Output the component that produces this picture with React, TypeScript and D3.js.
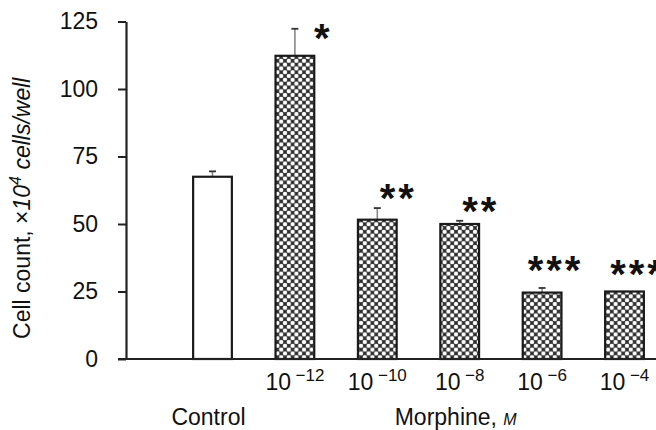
import { useRef, useEffect } from "react";
import * as d3 from "d3";

const categories = ["Control", "1e-12", "1e-10", "1e-8", "1e-6", "1e-4"];
const exponents = [null, "−12", "−10", "−8", "−6", "−4"];
const means = [67.5, 112.3, 51.6, 50, 24.6, 25];
const errors = [2, 10, 4.3, 1.2, 1.7, 0];
const stars = ["", "*", "**", "**", "***", "***"];
const yTicks = [0, 25, 50, 75, 100, 125];

const width = 656;
const height = 430;
const font = "'Liberation Sans', Arial, sans-serif";

const App = () => {
  const svgRef = useRef<SVGSVGElement>(null);

  useEffect(() => {
    const svg = d3.select(svgRef.current);
    svg.selectAll("*").remove();

    const axisX = 126;
    const y = d3.scaleLinear().domain([0, 125]).range([359, 21.5]);
    const x = d3
      .scaleBand()
      .domain(categories)
      .range([171.3, 665.7])
      .paddingInner(0.53)
      .paddingOuter(0.265);

    // Cross-hatch fill
    const cell = 7.6;
    const pat = svg
      .append("defs")
      .append("pattern")
      .attr("id", "hatch")
      .attr("patternUnits", "userSpaceOnUse")
      .attr("width", cell)
      .attr("height", cell);
    pat.append("rect").attr("width", cell).attr("height", cell).attr("fill", "#2c2c2c");
    [
      [0, 0],
      [cell, 0],
      [0, cell],
      [cell, cell],
      [cell / 2, cell / 2],
    ].forEach(([cx, cy]) => {
      pat.append("circle").attr("cx", cx).attr("cy", cy).attr("r", 2.2).attr("fill", "#fff");
    });

    // Y axis
    const yAxis = svg
      .append("g")
      .attr("transform", `translate(${axisX},0)`)
      .call(d3.axisLeft(y).tickValues(yTicks).tickSize(8).tickPadding(20).tickSizeOuter(0));
    yAxis.select(".domain").attr("stroke", "#222").attr("stroke-width", 2.2);
    yAxis.selectAll(".tick line").attr("stroke", "#222").attr("stroke-width", 2);
    yAxis
      .selectAll(".tick text")
      .attr("fill", "#111")
      .style("font-family", font)
      .style("font-size", "23px");

    const bw = x.bandwidth();

    // Error bars
    categories.forEach((c, i) => {
      if (!errors[i]) return;
      const cx = x(c)! + bw / 2;
      svg
        .append("line")
        .attr("x1", cx)
        .attr("x2", cx)
        .attr("y1", y(means[i]))
        .attr("y2", y(means[i] + errors[i]))
        .attr("stroke", "#888")
        .attr("stroke-width", 1.6);
      svg
        .append("line")
        .attr("x1", cx - 3.5)
        .attr("x2", cx + 3.5)
        .attr("y1", y(means[i] + errors[i]))
        .attr("y2", y(means[i] + errors[i]))
        .attr("stroke", "#333")
        .attr("stroke-width", 1.8);
    });

    // Bars
    svg
      .selectAll(".bar")
      .data(categories)
      .enter()
      .append("rect")
      .attr("class", "bar")
      .attr("x", (d) => x(d)!)
      .attr("width", bw)
      .attr("y", (d, i) => y(means[i]))
      .attr("height", (d, i) => y(0) - y(means[i]))
      .attr("fill", (d, i) => (i === 0 ? "#fff" : "url(#hatch)"))
      .attr("stroke", "#1a1a1a")
      .attr("stroke-width", 2.2);

    // X axis
    svg
      .append("line")
      .attr("x1", axisX - 8)
      .attr("x2", width)
      .attr("y1", y(0))
      .attr("y2", y(0))
      .attr("stroke", "#222")
      .attr("stroke-width", 2.2);

    // Significance stars
    const starLift = [0, 0, -19, -27];
    categories.forEach((c, i) => {
      const n = stars[i].length;
      if (!n) return;
      const cx = x(c)! + bw / 2 + 36 - 7.5 * n;
      const top = y(means[i] + errors[i]);
      const cy = top + starLift[n];
      svg
        .append("text")
        .attr("x", cx)
        .attr("y", cy + 23)
        .attr("text-anchor", "middle")
        .style("font-family", font)
        .style("font-size", "40px")
        .style("font-weight", "bold")
        .style("letter-spacing", "3px")
        .attr("fill", "#111")
        .text(stars[i]);
    });

    // X tick labels
    categories.forEach((c, i) => {
      if (!exponents[i]) return;
      const t = svg
        .append("text")
        .attr("x", x(c)! + bw / 2)
        .attr("y", y(0) + 31)
        .attr("text-anchor", "middle")
        .style("font-family", font)
        .style("font-size", "23px")
        .attr("fill", "#111");
      t.append("tspan").text("10\u2009");
      t.append("tspan").attr("dy", -9).style("font-size", "17px").text(exponents[i]!);
    });

    // Group labels
    svg
      .append("text")
      .attr("x", x(categories[0])! + bw / 2 - 4)
      .attr("y", 425)
      .attr("text-anchor", "middle")
      .style("font-family", font)
      .style("font-size", "23px")
      .attr("fill", "#111")
      .text("Control");

    const mLabel = svg
      .append("text")
      .attr("x", (x(categories[1])! + x(categories[5])! + bw) / 2 - 4)
      .attr("y", 425)
      .attr("text-anchor", "middle")
      .style("font-family", font)
      .style("font-size", "23px")
      .attr("fill", "#111");
    mLabel.append("tspan").text("Morphine, ");
    mLabel.append("tspan").style("font-style", "italic").style("font-size", "16px").text("M");

    // Y axis title
    const yt = svg
      .append("text")
      .attr("transform", `translate(30,${(y(0) + y(125)) / 2 + 18}) rotate(-90)`)
      .attr("text-anchor", "middle")
      .style("font-family", font)
      .style("font-size", "23px")
      .attr("fill", "#111");
    yt.append("tspan").text("Cell count, \u00d7");
    yt.append("tspan").style("font-style", "italic").text("10");
    yt.append("tspan").attr("dy", -9).style("font-size", "16px").style("font-style", "italic").text("4");
    yt.append("tspan").attr("dy", 9).style("font-style", "italic").text(" cells/well");
  }, []);

  return (
    <svg
      ref={svgRef}
      width={width}
      height={height}
      style={{ position: "absolute", left: 0, top: 0, background: "#fff" }}
    />
  );
};

export default App;
